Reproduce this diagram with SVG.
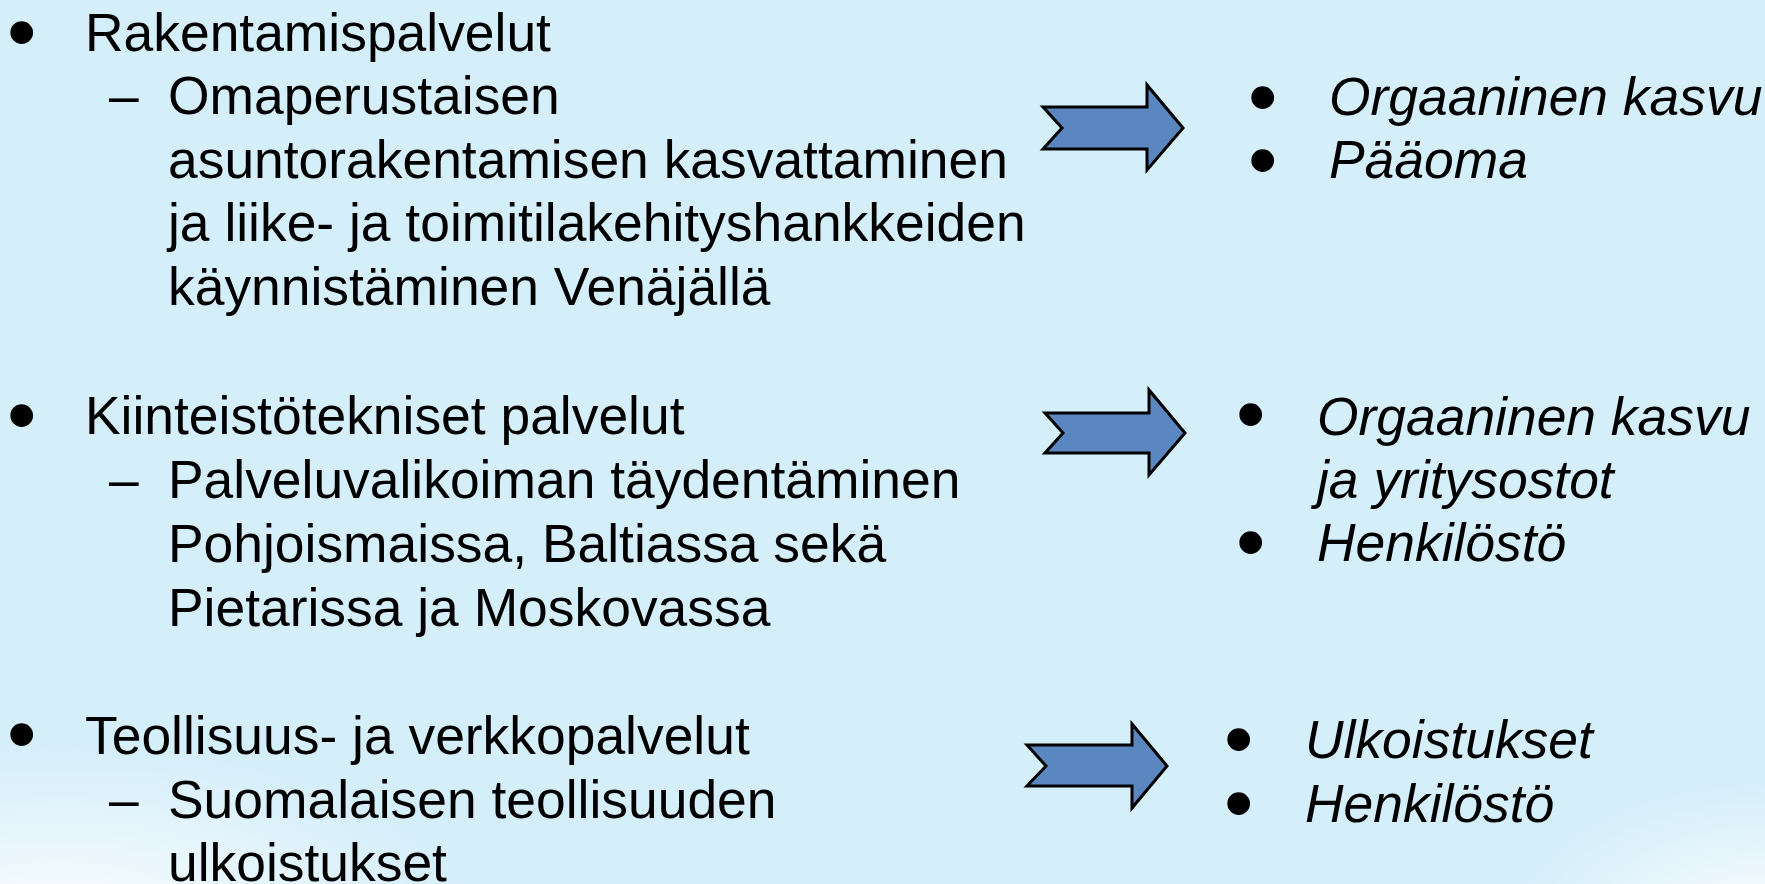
<svg xmlns="http://www.w3.org/2000/svg" width="1765" height="884" viewBox="0 0 1765 884">
<defs>
<radialGradient id="glowL" cx="0.5" cy="0.5" r="0.5">
<stop offset="0" stop-color="#ffffff" stop-opacity="0.95"/>
<stop offset="0.5" stop-color="#ffffff" stop-opacity="0.45"/>
<stop offset="1" stop-color="#ffffff" stop-opacity="0"/>
</radialGradient>
<style>
.t{font-family:"Liberation Sans",Arial,sans-serif;font-size:53.4px;fill:#000}
.i{font-style:italic}
.b{font-family:"Liberation Sans",Arial,sans-serif;font-size:84px;fill:#000}
.arr{fill:#5A87BF;stroke:#000;stroke-width:3;stroke-linejoin:miter}
</style>
</defs>
<rect width="1765" height="884" fill="#D4EEFA"/>
<ellipse cx="60" cy="930" rx="420" ry="190" fill="url(#glowL)"/>
<ellipse cx="1765" cy="930" rx="260" ry="150" fill="url(#glowL)"/>

<g id="left1">
<text class="b" x="7" y="60">•</text>
<text class="t" x="85" y="51">Rakentamispalvelut</text>
<text class="t" x="109" y="114">–</text>
<text class="t" x="168" y="114">Omaperustaisen</text>
<text class="t" x="168" y="178">asuntorakentamisen kasvattaminen</text>
<text class="t" x="168" y="241">ja liike- ja toimitilakehityshankkeiden</text>
<text class="t" x="168" y="305">käynnistäminen Venäjällä</text>
</g>
<g id="left2">
<text class="b" x="7" y="443">•</text>
<text class="t" x="85" y="434">Kiinteistötekniset palvelut</text>
<text class="t" x="109" y="498">–</text>
<text class="t" x="168" y="498">Palveluvalikoiman täydentäminen</text>
<text class="t" x="168" y="562">Pohjoismaissa, Baltiassa sekä</text>
<text class="t" x="168" y="626">Pietarissa ja Moskovassa</text>
</g>
<g id="left3">
<text class="b" x="7" y="762">•</text>
<text class="t" x="85" y="754">Teollisuus- ja verkkopalvelut</text>
<text class="t" x="109" y="818">–</text>
<text class="t" x="168" y="818">Suomalaisen teollisuuden</text>
<text class="t" x="168" y="881">ulkoistukset</text>
</g>

<g id="connectors">
<path class="arr" d="M1043,107 L1147,107 L1147,85 L1183,128 L1147,170 L1147,149 L1043,149 L1062,128 Z"/>
<path class="arr" d="M1045,413 L1149,413 L1149,390 L1185,433 L1149,475 L1149,453 L1045,453 L1063,433 Z"/>
<path class="arr" d="M1027,745 L1132,745 L1132,724 L1167,766 L1132,808 L1132,786 L1027,786 L1046,766 Z"/>
</g>

<g id="right1">
<text class="b" x="1248" y="125">•</text>
<text class="b" x="1248" y="188">•</text>
<text class="t i" x="1329" y="115">Orgaaninen kasvu</text>
<text class="t i" x="1329" y="178">Pääoma</text>
</g>
<g id="right2">
<text class="b" x="1236" y="442">•</text>
<text class="b" x="1236" y="570">•</text>
<text class="t i" x="1317" y="435">Orgaaninen kasvu</text>
<text class="t i" x="1317" y="498">ja yritysostot</text>
<text class="t i" x="1317" y="561">Henkilöstö</text>
</g>
<g id="right3">
<text class="b" x="1224" y="767">•</text>
<text class="b" x="1224" y="831">•</text>
<text class="t i" x="1305" y="758">Ulkoistukset</text>
<text class="t i" x="1305" y="822">Henkilöstö</text>
</g>
</svg>
